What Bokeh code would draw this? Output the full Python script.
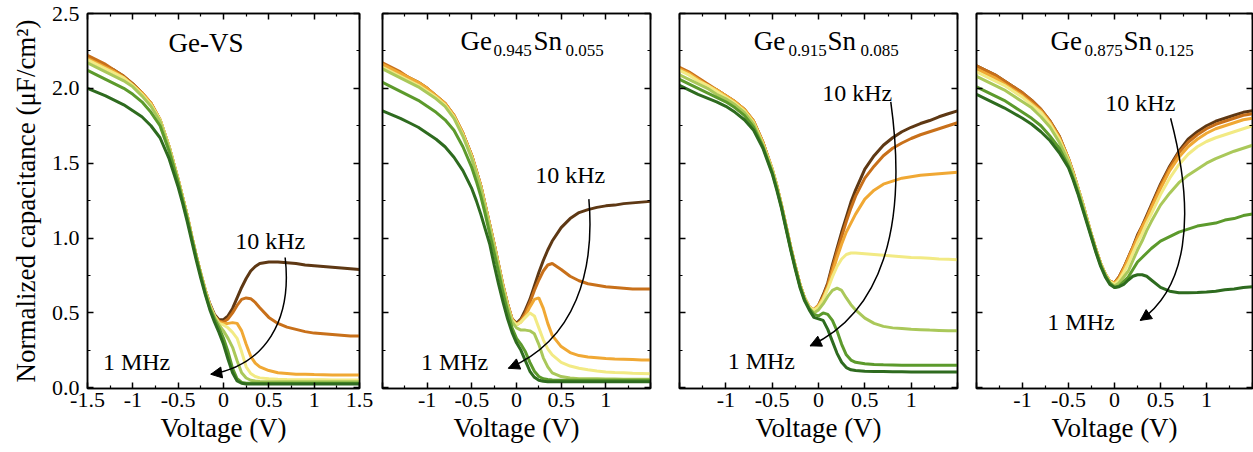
from bokeh.plotting import figure
from bokeh.layouts import row
from bokeh.models import Label, Arrow, NormalHead, FixedTicker, LinearAxis, Range1d, Title
from bokeh.embed import file_html
from bokeh.resources import INLINE

# ---------------- data ----------------
VOLTAGE = [-1.5, -1.4, -1.3, -1.2, -1.1, -1.0, -0.9, -0.8, -0.7, -0.6,
           -0.5, -0.45, -0.4, -0.35, -0.3, -0.25, -0.2, -0.15, -0.1, -0.05,
           0.0, 0.05, 0.1, 0.15, 0.2, 0.25, 0.3, 0.35, 0.4,
           0.5, 0.6, 0.7, 0.8, 0.9, 1.0, 1.1, 1.2, 1.3, 1.4, 1.5]

FREQ_LABELS = ["10 kHz", "1 MHz"]
X_TITLE = "Voltage (V)"
Y_TITLE = "Normalized capacitance (\u03bcF/cm\u00b2)"

# Ge-VS, 7 frequencies from 10 kHz (first) to 1 MHz (last)
VS_F1 = [2.21, 2.18, 2.15, 2.12, 2.08, 2.03, 1.97, 1.90, 1.79, 1.61,
         1.39, 1.27, 1.15, 1.01, 0.88, 0.76, 0.65, 0.56, 0.49, 0.455,
         0.455, 0.48, 0.53, 0.60, 0.67, 0.73, 0.78, 0.81, 0.83,
         0.84, 0.84, 0.835, 0.83, 0.82, 0.815, 0.81, 0.805, 0.80, 0.795, 0.79]
VS_F2 = [2.22, 2.19, 2.16, 2.12, 2.08, 2.03, 1.97, 1.90, 1.79, 1.61,
         1.39, 1.27, 1.15, 1.01, 0.88, 0.76, 0.65, 0.55, 0.48, 0.445,
         0.44, 0.46, 0.50, 0.55, 0.59, 0.60, 0.595, 0.57, 0.535,
         0.47, 0.43, 0.405, 0.39, 0.375, 0.365, 0.36, 0.355, 0.35, 0.345, 0.345]
VS_F3 = [2.20, 2.17, 2.14, 2.11, 2.07, 2.02, 1.97, 1.90, 1.79, 1.61,
         1.39, 1.27, 1.15, 1.01, 0.88, 0.76, 0.65, 0.55, 0.48, 0.44,
         0.43, 0.43, 0.435, 0.43, 0.38, 0.29, 0.21, 0.165, 0.14,
         0.115, 0.10, 0.095, 0.09, 0.09, 0.088, 0.087, 0.086, 0.085, 0.085, 0.085]
VS_F4 = [2.19, 2.16, 2.13, 2.10, 2.07, 2.02, 1.96, 1.89, 1.79, 1.61,
         1.39, 1.27, 1.15, 1.01, 0.88, 0.76, 0.65, 0.55, 0.48, 0.43,
         0.42, 0.40, 0.37, 0.33, 0.24, 0.14, 0.095, 0.075, 0.066,
         0.06, 0.057, 0.055, 0.054, 0.054, 0.053, 0.053, 0.052, 0.052, 0.052, 0.052]
VS_F5 = [2.17, 2.14, 2.11, 2.08, 2.05, 2.01, 1.95, 1.88, 1.78, 1.60,
         1.38, 1.26, 1.14, 1.00, 0.87, 0.75, 0.64, 0.54, 0.47, 0.42,
         0.38, 0.33, 0.27, 0.18, 0.10, 0.065, 0.05, 0.045, 0.042,
         0.04, 0.04, 0.04, 0.04, 0.04, 0.04, 0.04, 0.04, 0.04, 0.04, 0.04]
VS_F6 = [2.12, 2.09, 2.06, 2.03, 2.00, 1.96, 1.91, 1.84, 1.75, 1.58,
         1.37, 1.25, 1.13, 1.00, 0.87, 0.75, 0.63, 0.53, 0.46, 0.40,
         0.33, 0.24, 0.13, 0.06, 0.035, 0.03, 0.03, 0.03, 0.03,
         0.03, 0.03, 0.03, 0.03, 0.03, 0.03, 0.03, 0.03, 0.03, 0.03, 0.03]
VS_F7 = [2.00, 1.975, 1.95, 1.92, 1.89, 1.85, 1.81, 1.75, 1.67, 1.53,
         1.34, 1.23, 1.11, 0.98, 0.85, 0.73, 0.62, 0.52, 0.44, 0.37,
         0.29, 0.19, 0.10, 0.045, 0.03, 0.025, 0.025, 0.025, 0.025,
         0.025, 0.025, 0.025, 0.025, 0.025, 0.025, 0.025, 0.025, 0.025, 0.025, 0.025]

# Ge0.945Sn0.055
SN055_F1 = [2.16, 2.13, 2.10, 2.07, 2.04, 2.00, 1.95, 1.90, 1.82, 1.70,
            1.55, 1.45, 1.35, 1.22, 1.09, 0.96, 0.82, 0.68, 0.56, 0.46,
            0.43, 0.46, 0.52, 0.59, 0.68, 0.77, 0.85, 0.92, 0.98,
            1.07, 1.13, 1.17, 1.19, 1.205, 1.215, 1.22, 1.23, 1.235, 1.24, 1.245]
SN055_F2 = [2.17, 2.14, 2.11, 2.07, 2.04, 2.00, 1.95, 1.90, 1.82, 1.70,
            1.55, 1.45, 1.35, 1.22, 1.09, 0.96, 0.82, 0.68, 0.56, 0.46,
            0.42, 0.45, 0.50, 0.57, 0.65, 0.72, 0.78, 0.82, 0.83,
            0.79, 0.745, 0.715, 0.695, 0.685, 0.675, 0.67, 0.665, 0.66, 0.66, 0.66]
SN055_F3 = [2.16, 2.13, 2.10, 2.07, 2.04, 2.00, 1.95, 1.90, 1.82, 1.70,
            1.55, 1.45, 1.35, 1.22, 1.09, 0.96, 0.82, 0.68, 0.56, 0.46,
            0.42, 0.44, 0.48, 0.54, 0.59, 0.60, 0.53, 0.43, 0.35,
            0.275, 0.235, 0.215, 0.205, 0.20, 0.195, 0.192, 0.19, 0.188, 0.186, 0.185]
SN055_F4 = [2.14, 2.11, 2.08, 2.05, 2.02, 1.98, 1.94, 1.89, 1.81, 1.69,
            1.54, 1.44, 1.34, 1.21, 1.08, 0.95, 0.81, 0.67, 0.55, 0.45,
            0.42, 0.44, 0.47, 0.50, 0.48, 0.40, 0.32, 0.26, 0.22,
            0.17, 0.145, 0.13, 0.12, 0.112, 0.106, 0.102, 0.10, 0.097, 0.095, 0.093]
SN055_F5 = [2.13, 2.10, 2.07, 2.04, 2.01, 1.97, 1.93, 1.88, 1.80, 1.68,
            1.53, 1.43, 1.33, 1.20, 1.07, 0.94, 0.80, 0.66, 0.54, 0.44,
            0.40, 0.385, 0.385, 0.38, 0.36, 0.29, 0.20, 0.14, 0.10,
            0.075, 0.065, 0.06, 0.06, 0.06, 0.058, 0.058, 0.057, 0.057, 0.057, 0.057]
SN055_F6 = [2.04, 2.01, 1.98, 1.95, 1.92, 1.88, 1.84, 1.79, 1.72, 1.61,
            1.47, 1.38, 1.28, 1.16, 1.03, 0.90, 0.77, 0.63, 0.51, 0.40,
            0.33, 0.29, 0.24, 0.17, 0.11, 0.075, 0.06, 0.055, 0.052,
            0.05, 0.05, 0.05, 0.05, 0.05, 0.05, 0.05, 0.05, 0.05, 0.05, 0.05]
SN055_F7 = [1.85, 1.825, 1.80, 1.77, 1.74, 1.70, 1.66, 1.61, 1.54, 1.45,
            1.33, 1.25, 1.16, 1.06, 0.96, 0.82, 0.69, 0.57, 0.46, 0.37,
            0.30, 0.25, 0.18, 0.11, 0.07, 0.05, 0.043, 0.04, 0.04,
            0.04, 0.04, 0.04, 0.04, 0.04, 0.04, 0.04, 0.04, 0.04, 0.04, 0.04]

# Ge0.915Sn0.085
SN085_F1 = [2.13, 2.10, 2.06, 2.02, 1.99, 1.95, 1.91, 1.86, 1.78, 1.64,
            1.46, 1.35, 1.22, 1.08, 0.94, 0.81, 0.69, 0.60, 0.54, 0.52,
            0.55, 0.62, 0.70, 0.82, 0.93, 1.04, 1.14, 1.24, 1.32,
            1.46, 1.55, 1.62, 1.67, 1.71, 1.74, 1.765, 1.785, 1.81, 1.83, 1.85]
SN085_F2 = [2.14, 2.11, 2.07, 2.03, 1.99, 1.95, 1.91, 1.86, 1.78, 1.64,
            1.46, 1.35, 1.22, 1.08, 0.94, 0.81, 0.69, 0.60, 0.54, 0.52,
            0.55, 0.61, 0.69, 0.80, 0.91, 1.01, 1.11, 1.20, 1.28,
            1.40, 1.48, 1.55, 1.60, 1.635, 1.665, 1.69, 1.71, 1.73, 1.75, 1.77]
SN085_F3 = [2.13, 2.10, 2.06, 2.02, 1.99, 1.95, 1.91, 1.86, 1.78, 1.64,
            1.46, 1.35, 1.22, 1.08, 0.94, 0.81, 0.69, 0.60, 0.54, 0.52,
            0.55, 0.60, 0.67, 0.77, 0.87, 0.96, 1.04, 1.10, 1.16,
            1.26, 1.32, 1.36, 1.38, 1.40, 1.41, 1.42, 1.425, 1.43, 1.435, 1.44]
SN085_F4 = [2.12, 2.09, 2.05, 2.02, 1.98, 1.94, 1.90, 1.85, 1.77, 1.63,
            1.46, 1.35, 1.22, 1.08, 0.94, 0.81, 0.69, 0.60, 0.54, 0.52,
            0.54, 0.59, 0.66, 0.74, 0.81, 0.86, 0.89, 0.90, 0.90,
            0.895, 0.89, 0.885, 0.88, 0.875, 0.87, 0.868, 0.865, 0.86, 0.858, 0.855]
SN085_F5 = [2.09, 2.06, 2.03, 2.00, 1.96, 1.93, 1.89, 1.84, 1.76, 1.62,
            1.45, 1.34, 1.21, 1.07, 0.93, 0.80, 0.68, 0.59, 0.53, 0.50,
            0.52, 0.56, 0.61, 0.65, 0.665, 0.65, 0.60, 0.555, 0.52,
            0.465, 0.43, 0.41, 0.40, 0.395, 0.39, 0.388, 0.385, 0.383, 0.381, 0.38]
SN085_F6 = [2.06, 2.03, 2.00, 1.97, 1.94, 1.91, 1.87, 1.82, 1.74, 1.61,
            1.44, 1.33, 1.21, 1.07, 0.93, 0.80, 0.68, 0.59, 0.53, 0.49,
            0.48, 0.50, 0.49, 0.45, 0.38, 0.29, 0.22, 0.185, 0.17,
            0.16, 0.155, 0.153, 0.152, 0.151, 0.15, 0.15, 0.15, 0.15, 0.15, 0.15]
SN085_F7 = [2.02, 1.99, 1.96, 1.935, 1.91, 1.88, 1.84, 1.79, 1.72, 1.60,
            1.43, 1.32, 1.20, 1.06, 0.92, 0.79, 0.67, 0.58, 0.52, 0.47,
            0.46, 0.45, 0.39, 0.31, 0.23, 0.17, 0.135, 0.12, 0.115,
            0.11, 0.108, 0.108, 0.107, 0.107, 0.106, 0.106, 0.105, 0.105, 0.105, 0.105]

# Ge0.875Sn0.125
SN125_F1 = [2.15, 2.12, 2.09, 2.05, 2.01, 1.97, 1.92, 1.86, 1.78, 1.68,
            1.53, 1.44, 1.34, 1.24, 1.13, 1.02, 0.92, 0.83, 0.76, 0.71,
            0.70, 0.74, 0.80, 0.87, 0.94, 1.02, 1.08, 1.15, 1.22,
            1.36, 1.48, 1.58, 1.66, 1.71, 1.75, 1.78, 1.80, 1.82, 1.84, 1.85]
SN125_F2 = [2.15, 2.12, 2.09, 2.05, 2.01, 1.97, 1.92, 1.86, 1.78, 1.68,
            1.53, 1.44, 1.34, 1.24, 1.13, 1.02, 0.92, 0.83, 0.76, 0.71,
            0.70, 0.74, 0.80, 0.87, 0.94, 1.01, 1.08, 1.14, 1.21,
            1.35, 1.47, 1.57, 1.64, 1.69, 1.73, 1.76, 1.78, 1.80, 1.82, 1.83]
SN125_F3 = [2.13, 2.10, 2.07, 2.03, 1.99, 1.95, 1.90, 1.85, 1.77, 1.67,
            1.53, 1.44, 1.34, 1.24, 1.13, 1.02, 0.92, 0.83, 0.76, 0.71,
            0.70, 0.73, 0.79, 0.86, 0.93, 1.00, 1.07, 1.13, 1.20,
            1.33, 1.45, 1.54, 1.61, 1.66, 1.70, 1.73, 1.75, 1.77, 1.79, 1.80]
SN125_F4 = [2.11, 2.08, 2.05, 2.02, 1.98, 1.94, 1.89, 1.84, 1.76, 1.66,
            1.52, 1.43, 1.34, 1.24, 1.13, 1.02, 0.92, 0.83, 0.76, 0.71,
            0.69, 0.72, 0.77, 0.83, 0.90, 0.97, 1.03, 1.10, 1.16,
            1.29, 1.40, 1.49, 1.56, 1.61, 1.645, 1.67, 1.69, 1.71, 1.73, 1.75]
SN125_F5 = [2.08, 2.05, 2.02, 1.99, 1.95, 1.91, 1.87, 1.81, 1.74, 1.64,
            1.51, 1.42, 1.33, 1.23, 1.12, 1.01, 0.91, 0.82, 0.75, 0.70,
            0.68, 0.70, 0.74, 0.78, 0.85, 0.92, 0.98, 1.05, 1.11,
            1.22, 1.30, 1.37, 1.42, 1.46, 1.50, 1.53, 1.555, 1.58, 1.60, 1.62]
SN125_F6 = [2.01, 1.98, 1.95, 1.92, 1.88, 1.84, 1.80, 1.75, 1.68, 1.60,
            1.48, 1.40, 1.31, 1.21, 1.11, 1.01, 0.91, 0.82, 0.75, 0.70,
            0.67, 0.68, 0.71, 0.74, 0.79, 0.84, 0.87, 0.90, 0.93,
            0.98, 1.01, 1.04, 1.06, 1.08, 1.09, 1.10, 1.12, 1.13, 1.15, 1.16]
SN125_F7 = [1.96, 1.93, 1.90, 1.87, 1.835, 1.80, 1.76, 1.71, 1.65, 1.57,
            1.47, 1.39, 1.30, 1.20, 1.10, 1.00, 0.90, 0.81, 0.74, 0.69,
            0.67, 0.675, 0.69, 0.72, 0.745, 0.755, 0.755, 0.745, 0.72,
            0.67, 0.645, 0.635, 0.635, 0.637, 0.64, 0.645, 0.655, 0.66, 0.67, 0.675]

X_TICKS = [-1.5, -1.0, -0.5, 0.0, 0.5, 1.0, 1.5]
X_LABELS_FIRST = ["-1.5", "-1", "-0.5", "0", "0.5", "1", "1.5"]
X_LABELS_OTHER = ["", "-1", "-0.5", "0", "0.5", "1", ""]
Y_TICKS = [0.0, 0.5, 1.0, 1.5, 2.0, 2.5]
Y_LABELS = ["0.0", "0.5", "1.0", "1.5", "2.0", "2.5"]

# ---------------- style ----------------
COLORS = ["#5e3814", "#c8701a", "#f0a834", "#f2ea84", "#aac85a", "#5c9a2c", "#2e6b1f"]
FONT = "Liberation Serif"
X_MINOR = [-1.25, -0.75, -0.25, 0.25, 0.75, 1.25]
Y_MINOR = [0.25, 0.75, 1.25, 1.75, 2.25]

PANELS = [
    dict(curves=[VS_F1, VS_F2, VS_F3, VS_F4, VS_F5, VS_F6, VS_F7],
         fw=272, bl=87, br=14, first=True,
         title=[("Ge-VS", -0.607, 2.305, 27)],
         hz=(0.13, 0.98), mhz=(-1.33, 0.17),
         arrow=(0.68, 0.87, 0.76, 0.45, 0.46, 0.15, -0.14, 0.09), xoff=9),
    dict(curves=[SN055_F1, SN055_F2, SN055_F3, SN055_F4, SN055_F5, SN055_F6, SN055_F7],
         fw=268, bl=9, br=10, first=False,
         title=[("Ge", -0.627, 2.318, 27), ("0.945", -0.258, 2.25, 17),
                ("Sn", 0.19, 2.318, 27), ("0.055", 0.549, 2.25, 17)],
         hz=(0.21, 1.42), mhz=(-1.07, 0.17),
         arrow=(0.81, 1.26, 0.88, 0.78, 0.66, 0.32, -0.09, 0.13), xoff=39),
    dict(curves=[SN085_F1, SN085_F2, SN085_F3, SN085_F4, SN085_F5, SN085_F6, SN085_F7],
         fw=278, bl=19, br=4, first=False,
         title=[("Ge", -0.70, 2.318, 27), ("0.915", -0.324, 2.25, 17),
                ("Sn", 0.097, 2.318, 27), ("0.085", 0.453, 2.25, 17)],
         hz=(0.04, 1.97), mhz=(-0.98, 0.18),
         arrow=(0.78, 1.91, 0.97, 1.06, 0.67, 0.50, -0.09, 0.28), xoff=10),
    dict(curves=[SN125_F1, SN125_F2, SN125_F3, SN125_F4, SN125_F5, SN125_F6, SN125_F7],
         fw=276, bl=15, br=1, first=False,
         title=[("Ge", -0.696, 2.318, 27), ("0.875", -0.326, 2.25, 17),
                ("Sn", 0.098, 2.318, 27), ("0.125", 0.446, 2.25, 17)],
         hz=(-0.10, 1.90), mhz=(-0.73, 0.44),
         arrow=(0.61, 1.80, 0.90, 1.12, 0.77, 0.66, 0.28, 0.45), xoff=16),
]


def style_axis(ax, ticks, minor, labels, size="22px"):
    ax.ticker = FixedTicker(ticks=ticks, minor_ticks=minor)
    ax.axis_line_color = "black"
    ax.axis_line_width = 1.5
    ax.major_tick_in = 6
    ax.major_tick_out = 0
    ax.minor_tick_in = 3
    ax.minor_tick_out = 0
    ax.major_tick_line_color = "black"
    ax.minor_tick_line_color = "black"
    ax.major_tick_line_width = 1.5
    ax.minor_tick_line_width = 1.2
    ax.major_label_text_font = FONT
    ax.major_label_text_color = "black"
    ax.major_label_text_font_size = size
    if labels is None:
        labels = [""] * len(ticks)
        ax.major_label_standoff = 0
    else:
        ax.major_label_standoff = 4
    ax.major_label_overrides = {t: s for t, s in zip(ticks, labels)}


def build(cfg):
    p = figure(frame_width=cfg["fw"], frame_height=375,
               min_border_left=cfg["bl"], min_border_right=cfg["br"],
               min_border_top=13, min_border_bottom=64,
               x_range=Range1d(-1.5, 1.5), y_range=Range1d(-0.005, 2.5),
               output_backend="svg", toolbar_location=None)
    p.grid.visible = False
    p.outline_line_color = "black"
    p.outline_line_width = 1.5
    p.outline_line_alpha = 1.0
    p.background_fill_color = "white"
    p.border_fill_color = "white"

    for ys, col in zip(cfg["curves"], COLORS):
        p.line(VOLTAGE, ys, line_color=col, line_width=3)

    style_axis(p.xaxis[0], X_TICKS, X_MINOR,
               X_LABELS_FIRST if cfg["first"] else X_LABELS_OTHER, "22px")
    style_axis(p.yaxis[0], Y_TICKS, Y_MINOR, Y_LABELS if cfg["first"] else None, "22px")
    if cfg["first"]:
        ya = p.yaxis[0]
        ya.axis_label = Y_TITLE
        ya.axis_label_text_font = FONT
        ya.axis_label_text_font_size = "27px"
        ya.axis_label_text_font_style = "normal"
        ya.axis_label_text_color = "black"
        ya.axis_label_standoff = 8
        ya.major_label_standoff = 8

    top = LinearAxis()
    style_axis(top, X_TICKS, X_MINOR, None)
    p.add_layout(top, "above")
    right = LinearAxis()
    style_axis(right, Y_TICKS, Y_MINOR, None)
    p.add_layout(right, "right")

    p.add_layout(Title(text=X_TITLE, align="center", offset=cfg["xoff"],
                       text_font=FONT, text_font_size="27px",
                       text_font_style="normal", text_color="black",
                       standoff=2), "below")

    for txt, x, y, size in cfg["title"]:
        p.add_layout(Label(x=x, y=y, text=txt, text_font=FONT,
                           text_font_size=f"{size}px", text_color="black",
                           text_align="left", text_baseline="alphabetic"))

    p.add_layout(Label(x=cfg["hz"][0], y=cfg["hz"][1], text=FREQ_LABELS[0],
                       text_font=FONT, text_font_size="24px", text_color="black",
                       text_align="left", text_baseline="alphabetic"))
    p.add_layout(Label(x=cfg["mhz"][0], y=cfg["mhz"][1], text=FREQ_LABELS[1],
                       text_font=FONT, text_font_size="24px", text_color="black",
                       text_align="left", text_baseline="alphabetic"))

    x0, y0, cx0, cy0, cx1, cy1, x1, y1 = cfg["arrow"]
    p.bezier(x0=[x0], y0=[y0], x1=[x1], y1=[y1], cx0=[cx0], cy0=[cy0],
             cx1=[cx1], cy1=[cy1], line_color="black", line_width=1.5)
    xs = x1 - 0.12 * (x1 - cx1)
    ys_ = y1 - 0.12 * (y1 - cy1)
    p.add_layout(Arrow(end=NormalHead(size=11, line_color="black", fill_color="black"),
                       x_start=xs, y_start=ys_, x_end=x1, y_end=y1,
                       line_color="black", line_width=1.5))
    return p


figs = [build(c) for c in PANELS]
layout = row(*figs)
open("out.html", "w").write(file_html(layout, INLINE))
